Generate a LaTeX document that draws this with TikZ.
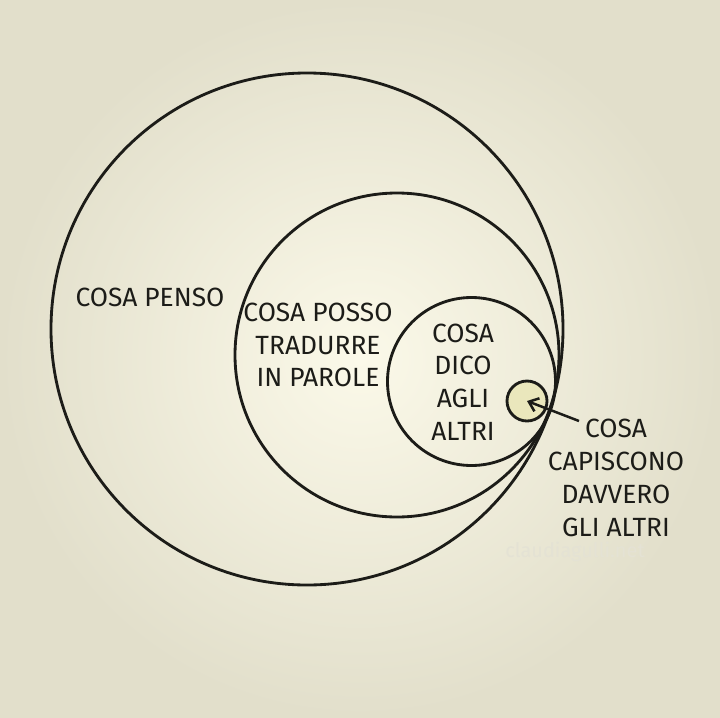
\documentclass[tikz,border=0pt]{standalone}
\usepackage{fontspec}
\setmainfont{Fira Sans}
\usetikzlibrary{arrows.meta}
\definecolor{paper}{RGB}{251,249,233}
\definecolor{paperedge}{RGB}{226,223,203}
\definecolor{ink}{RGB}{28,28,24}
\definecolor{dotfill}{RGB}{234,231,188}
\definecolor{wmark}{RGB}{228,226,212}
\tikzset{
  ring/.style={circle, draw=ink, line width=0.85mm, inner sep=0pt},
  lbl/.style={text=ink, font=\fontsize{22.5}{28}\selectfont, align=center, inner sep=0pt},
}
\begin{document}
\begin{tikzpicture}[x=0.3mm,y=-0.3mm]
\useasboundingbox (0,0) rectangle (720,717);
\shade[inner color=paper, outer color=paperedge] (0,0) rectangle (720,717);
% circles
\node[ring, minimum size=153.6mm] (c1) at (307,329) {};
\node[ring, minimum size=97.2mm] (c2) at (397,355) {};
\node[ring, minimum size=50.4mm] (c3) at (471.5,381.5) {};
\node[ring, fill=dotfill, minimum size=12mm] (c4) at (527,401) {};
% labels
\node[lbl] (t1) at (150,297) {COSA PENSO};
\node[lbl] (t2) at (318,345) {COSA POSSO\\TRADURRE\\IN PAROLE};
\node[lbl] (t3) at (463,382) {COSA\\DICO\\AGLI\\ALTRI};
\node[lbl] (t4) at (616,478) {COSA\\CAPISCONO\\DAVVERO\\GLI ALTRI};
\node[text=wmark, font=\fontsize{17}{20}\selectfont, inner sep=0pt] (wm) at (575,552) {claudiagulli.net};
% arrow
\coordinate (tail) at (579,421);
\draw[ink, line width=0.75mm, -{Straight Barb[length=2.6mm, width=4.2mm]}] (tail) -- (c4.center);
\end{tikzpicture}
\end{document}
